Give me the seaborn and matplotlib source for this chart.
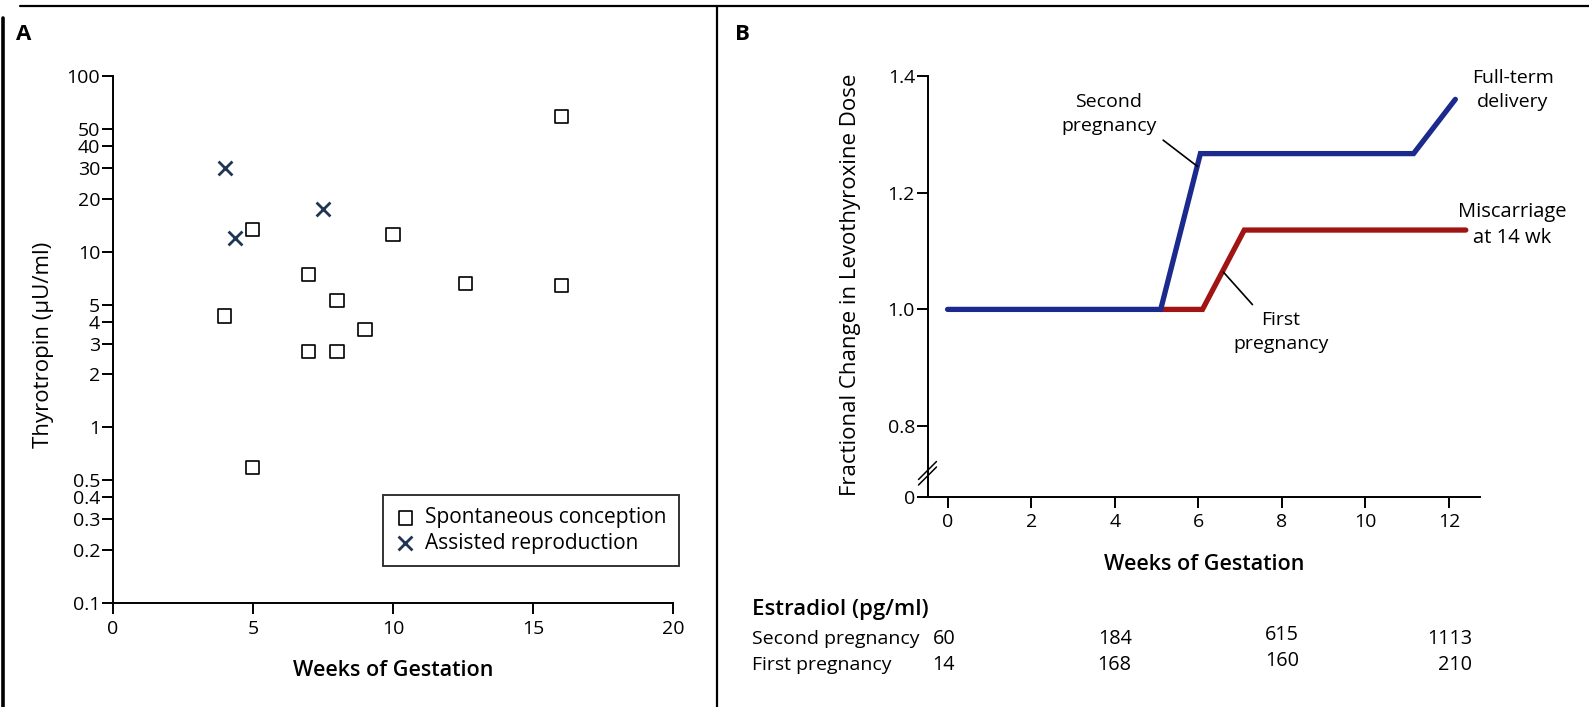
import numpy as np
import pandas as pd
import matplotlib
matplotlib.use("Agg")
import matplotlib.pyplot as plt
import seaborn as sns
from matplotlib.lines import Line2D
from matplotlib.ticker import NullLocator
from matplotlib.transforms import blended_transform_factory

# ---- panel A: thyrotropin vs weeks of gestation ----
spont_weeks = [16, 5, 10, 7, 12.6, 16, 8, 4, 9, 7, 8, 5]
spont_tsh = [59, 13.3, 12.5, 7.4, 6.6, 6.4, 5.3, 4.3, 3.6, 2.7, 2.7, 0.59]
assist_weeks = [4, 4.35, 7.5]
assist_tsh = [30, 12, 17.4]
tsh_ticks = [0.1, 0.2, 0.3, 0.4, 0.5, 1, 2, 3, 4, 5, 10, 20, 30, 40, 50, 100]
tsh_labels = ["0.1", "0.2", "0.3", "0.4", "0.5", "1", "2", "3", "4", "5",
              "10", "20", "30", "40", "50", "100"]
weeks_ticks_a = [0, 5, 10, 15, 20]

# ---- panel B: fractional change in dose ----
second_weeks = [0, 5.1, 6.05, 11.15, 12.15]
second_dose = [1.0, 1.0, 1.267, 1.267, 1.36]
first_weeks = [5.1, 6.1, 7.1, 12.4]
first_dose = [1.0, 1.0, 1.136, 1.136]
dose_ticks = [0.8, 1.0, 1.2, 1.4]
dose_labels = ["0.8", "1.0", "1.2", "1.4"]
weeks_ticks_b = [0, 2, 4, 6, 8, 10, 12]

estradiol_weeks = [0, 4, 8, 12]
estradiol_second = [60, 184, 615, 1113]
estradiol_first = [14, 168, 160, 210]

BLUE = "#1b2a8c"
RED = "#a01414"
CROSS = "#1e3553"
Y_FLOOR = 0.679  # where the broken axis puts "0"

sns.set_theme(style="ticks")
plt.rcParams["font.family"] = ["Open Sans", "DejaVu Sans"]
plt.rcParams.update({
    "font.size": 14,
    "text.color": "black",
    "axes.labelcolor": "black",
    "axes.edgecolor": "black",
    "axes.linewidth": 1.4,
    "xtick.color": "black",
    "ytick.color": "black",
    "xtick.major.width": 1.4,
    "ytick.major.width": 1.4,
    "xtick.major.size": 8,
    "ytick.major.size": 8,
    "xtick.labelsize": 14,
    "ytick.labelsize": 14,
})

W, H = 1589, 707
fig = plt.figure(figsize=(W / 100, H / 100), dpi=100)


def rect(left, top, right, bottom):
    return [left / W, 1 - bottom / H, (right - left) / W, (bottom - top) / H]


# frame decorations
fig.add_artist(Line2D([20 / W, 1], [1 - 6 / H, 1 - 6 / H], color="black", lw=1.6))
fig.add_artist(Line2D([3 / W, 3 / W], [0, 1 - 18 / H], color="black", lw=2.6))
fig.add_artist(Line2D([716.5 / W, 716.5 / W], [0, 1 - 6 / H], color="black", lw=1.6))

# ---------------- panel A ----------------
axA = fig.add_axes(rect(112.7, 76, 673.3, 603))
sns.scatterplot(x=spont_weeks, y=spont_tsh, ax=axA, marker="s", s=90,
                facecolor="none", edgecolor="black", linewidth=1.2,
                label="Spontaneous conception", zorder=3)
sns.scatterplot(x=assist_weeks, y=assist_tsh, ax=axA, marker="x", s=100,
                color=CROSS, linewidth=2.0, label="Assisted reproduction",
                zorder=3)
axA.set_yscale("log")
axA.set_xlim(0, 20)
axA.set_ylim(0.1, 100)
axA.set_yticks(tsh_ticks, labels=tsh_labels)
axA.yaxis.set_minor_locator(NullLocator())
axA.set_xticks(weeks_ticks_a)
axA.tick_params(axis="y", pad=1)
axA.tick_params(axis="x", pad=4)
sns.despine(ax=axA)
axA.set_xlabel("Weeks of Gestation", fontsize=15.5, fontweight="semibold")
axA.set_ylabel("Thyrotropin (\u00b5U/ml)", fontsize=16)
axA.xaxis.set_label_coords(0.5, -0.129)
axA.xaxis.label.set_va("center")
axA.yaxis.set_label_coords(-0.124, 0.49)
axA.yaxis.label.set_va("center")
leg = axA.legend(loc="upper right", bbox_to_anchor=(679 / W, 1 - 495 / H),
                 bbox_transform=fig.transFigure, borderaxespad=0,
                 frameon=True, fancybox=False, edgecolor="black",
                 fontsize=15, handlelength=0.9, handletextpad=0.5,
                 borderpad=0.6, labelspacing=0.2, scatterpoints=1)
leg.get_frame().set_linewidth(1.4)
fig.text(24 / W, 1 - 35 / H, "A", fontsize=16, fontweight="bold",
         ha="center", va="center")

# ---------------- panel B ----------------
axB = fig.add_axes(rect(927.5, 76, 1480, 496.7))
sns.lineplot(x=first_weeks, y=first_dose, ax=axB, color=RED, lw=3.8,
             clip_on=False, solid_joinstyle="miter")
sns.lineplot(x=second_weeks, y=second_dose, ax=axB, color=BLUE, lw=3.8,
             clip_on=False, solid_joinstyle="miter")
axB.set_xlim(-0.48, 12.74)
axB.set_ylim(Y_FLOOR, 1.4)
axB.set_yticks([Y_FLOOR] + dose_ticks, labels=["0"] + dose_labels)
axB.set_xticks(weeks_ticks_b)
axB.tick_params(axis="y", pad=1)
axB.tick_params(axis="x", pad=4)
sns.despine(ax=axB)
axB.set_xlabel("Weeks of Gestation", fontsize=15.5, fontweight="semibold")
axB.set_ylabel("Fractional Change in Levothyroxine Dose", fontsize=16)
axB.xaxis.set_label_coords(0.5, -0.162)
axB.xaxis.label.set_va("center")
axB.yaxis.set_label_coords(-0.1385, 0.503)
axB.yaxis.label.set_va("center")

# axis break marks
for cy in (470.5, 476):
    fig.add_artist(Line2D([(927.5 - 9) / W, (927.5 + 9) / W],
                          [1 - (cy + 9) / H, 1 - (cy - 9) / H],
                          color="black", lw=1.1))

lead = dict(arrowstyle="-", color="black", lw=1.2, shrinkB=0)
axB.annotate("Second\npregnancy", xy=(5.98, 1.245), xytext=(3.86, 1.335),
             ha="center", va="center", fontsize=14, linespacing=1.45,
             arrowprops=dict(lead, relpos=(1.0, 0.0), shrinkA=3))
axB.annotate("First\npregnancy", xy=(6.6, 1.064), xytext=(7.98, 0.961),
             ha="center", va="center", fontsize=14, linespacing=1.45,
             arrowprops=dict(lead, relpos=(0.26, 1.0), shrinkA=3))
axB.text(13.53, 1.376, "Full-term\ndelivery", ha="center", va="center",
         fontsize=14, linespacing=1.45)
axB.text(13.51, 1.145, "Miscarriage\nat 14 wk", ha="center", va="center",
         fontsize=14.5, linespacing=1.4)
fig.text(742.5 / W, 1 - 35 / H, "B", fontsize=16, fontweight="bold",
         ha="center", va="center")

# estradiol table under panel B
blend = blended_transform_factory(axB.transData, fig.transFigure)
fig.text(752 / W, 1 - 610 / H, "Estradiol (pg/ml)", fontsize=16,
         fontweight="semibold", va="center", ha="left")
rows = [("Second pregnancy", estradiol_second, 639),
        ("First pregnancy", estradiol_first, 665)]
col_ha = ["left", "center", "center", "right"]
col_dx = [-0.36, 0, 0, 0.55]
col_dy = [0, 0, -4.5, 0]
for label, vals, ypix in rows:
    fig.text(752 / W, 1 - ypix / H, label, fontsize=14, va="center", ha="left")
    for wk, v, ha, dx, dy in zip(estradiol_weeks, vals, col_ha, col_dx, col_dy):
        axB.text(wk + dx, 1 - (ypix + dy) / H, str(v), transform=blend,
                 fontsize=14.3, ha=ha, va="center")

fig.savefig("out.png", dpi=100)
